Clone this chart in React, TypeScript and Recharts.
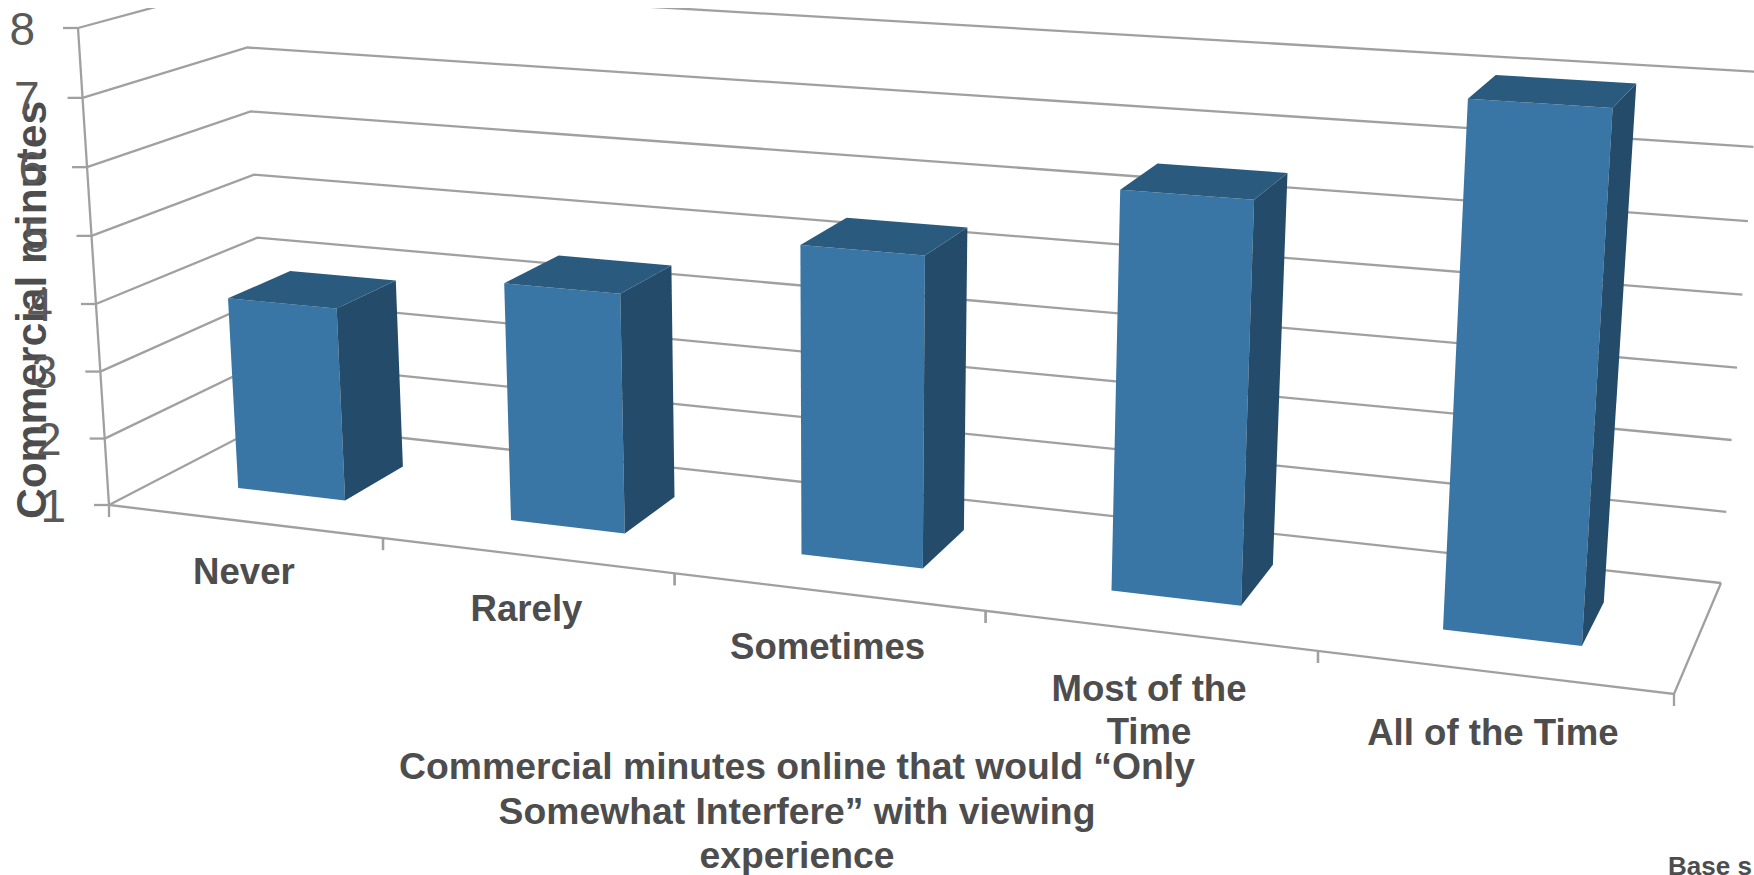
import React from 'react';
import { BarChart, Bar, XAxis, YAxis, CartesianGrid } from 'recharts';

const categories = ['Never', 'Rarely', 'Sometimes', 'Most of the\nTime', 'All of the Time'];
const minutes = [3.88, 4.48, 5.39, 6.49, 7.99];
const yTicks = [1, 2, 3, 4, 5, 6, 7, 8];
const xTitleLines = ['Commercial minutes online that would “Only', 'Somewhat Interfere” with viewing', 'experience'];
const yTitle = 'Commercial minutes';
const footnote = 'Base s';
const rows = categories.map((name, i) => ({ name, value: minutes[i] }));

const W = 1754, H = 875;
const L = 109, T = 28, R = 80, XH = 180;
const PW = W - L - R, PH = H - T - XH;
const FONT = '"Liberation Sans", Arial, sans-serif';
const LINE = '#a0a0a0';
const FRONT = '#3976a5', TOP = '#2a5b7e', SIDE = '#244c6a';
const TEXT = '#4d4d4d';

type Pt = [number, number];
// corners of the drawn box: front/back, left/right, bottom/top
const FLB: Pt = [109, 505], FRB: Pt = [1674, 694], FLT: Pt = [78, 28], FRT: Pt = [1708, 134];
const BLB: Pt = [267, 423], BRB: Pt = [1721, 583], BLT: Pt = [244, -17], BRT: Pt = [1759, 72];
const mix = (a: Pt, b: Pt, t: number): Pt => [a[0] + (b[0] - a[0]) * t, a[1] + (b[1] - a[1]) * t];
const persp = (u: number, c: number) => (u * (1 + c)) / (1 + c * u);
function project(u: number, v: number, w: number): Pt {
  const s = persp(u, -0.151), t = persp(v, -0.029);
  const front = mix(mix(FLB, FRB, s), mix(FLT, FRT, s), t);
  const back = mix(mix(BLB, BRB, s), mix(BLT, BRT, s), t);
  return mix(front, back, w);
}
const toU = (x: number) => (x - L) / PW;
const toV = (y: number) => (T + PH - y) / PH;
const pts = (list: Pt[]) => list.map((p) => `${p[0].toFixed(1)},${p[1].toFixed(1)}`).join(' ');
const Seg = ({ list }: { list: Pt[] }) => <polyline points={pts(list)} fill="none" stroke={LINE} strokeWidth={2.3} />;

const GridLine = (p: any) => {
  const v = toV(p.y1);
  return (
    <g key={p.key} clipPath="url(#frame-clip)">
      <defs>
        <clipPath id="frame-clip"><rect x={0} y={8} width={W} height={H} /></clipPath>
      </defs>
      <Seg list={[project(0, v, 0), project(0, v, 1), project(1, v, 1)]} />
      {Math.abs(v) < 1e-6 && <Seg list={[project(0, 1, 0), project(0, 0, 0), project(1, 0, 0), project(1, 0, 1)]} />}
    </g>
  );
};

const Box = (p: any) => {
  const u0 = toU(p.x), u1 = toU(p.x + p.width), v1 = toV(p.y), v0 = toV(p.y + p.height);
  const wa = 0.32, wb = 0.72;
  return (
    <g>
      <polygon fill={FRONT} points={pts([project(u0, v0, wa), project(u1, v0, wa), project(u1, v1, wa), project(u0, v1, wa)])} />
      <polygon fill={SIDE} points={pts([project(u1, v0, wa), project(u1, v0, wb), project(u1, v1, wb), project(u1, v1, wa)])} />
      <polygon fill={TOP} points={pts([project(u0, v1, wa), project(u1, v1, wa), project(u1, v1, wb), project(u0, v1, wb)])} />
    </g>
  );
};

const XTick = (p: any) => {
  const u = toU(p.x), band = 1 / categories.length;
  const a = project(u, 0, 0);
  const s = persp(u, -0.151);
  const marks = [u - band / 2, u + band / 2].map((m) => project(m, 0, 0));
  const lines = String(p.payload.value).split('\n');
  return (
    <g>
      {marks.map((m, i) => <line key={i} x1={m[0]} x2={m[0]} y1={m[1]} y2={m[1] + 12} stroke={LINE} strokeWidth={2.3} />)}
      <text x={a[0]} textAnchor="middle" fontFamily={FONT} fontWeight="bold" fontSize={36.6} fill={TEXT}>
        {lines.map((t, i) => <tspan key={i} x={a[0]} y={a[1] + 62 + 12 * s + i * 43}>{t}</tspan>)}
      </text>
    </g>
  );
};

const YTick = (p: any) => {
  const a = project(0, toV(p.y), 0);
  return (
    <g>
      <line x1={a[0] - 15} x2={a[0]} y1={a[1]} y2={a[1]} stroke={LINE} strokeWidth={2.3} />
      <text x={a[0] - 43} y={a[1] + 16.5} textAnchor="end" fontFamily={FONT} fontSize={46} fill="#595959">{p.payload.value}</text>
    </g>
  );
};

const XTitle = () => (
  <g fontFamily={FONT} fontWeight="bold" fill={TEXT}>
    <text textAnchor="middle" fontSize={37.3}>
      {xTitleLines.map((t, i) => <tspan key={i} x={797} y={779 + i * 44.5}>{t}</tspan>)}
    </text>
    <text x={1668} y={875} fontSize={26}>{footnote}</text>
  </g>
);

const YTitle = () => (
  <text transform="translate(46,310) rotate(-90)" textAnchor="middle" fontFamily={FONT} fontWeight="bold" fontSize={42.5} fill={TEXT}>{yTitle}</text>
);

export default function App() {
  return (
    <div style={{ position: 'absolute', left: 0, top: 0, width: W, height: H, overflow: 'hidden', background: '#fff' }}>
      <BarChart width={W} height={H} data={rows} margin={{ top: T, right: R, bottom: 0, left: 0 }} barCategoryGap="30%">
        <CartesianGrid vertical={false} horizontal={GridLine as any} />
        <XAxis dataKey="name" height={XH} axisLine={false} tickLine={false} interval={0} tick={XTick as any} label={XTitle as any} />
        <YAxis width={L} domain={[1, 8]} ticks={yTicks} axisLine={false} tickLine={false} interval={0} tick={YTick as any} label={YTitle as any} />
        <Bar dataKey="value" isAnimationActive={false} shape={Box as any} />
      </BarChart>
    </div>
  );
}
